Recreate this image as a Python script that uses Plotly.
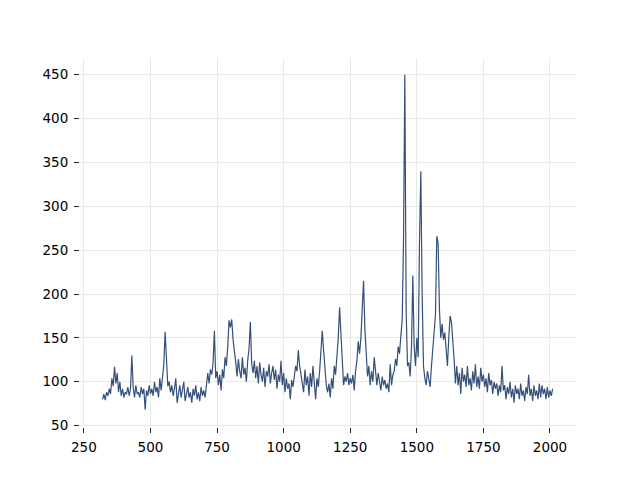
import plotly.graph_objects as go

# Sampling grid (wavenumber) and intensities
x_start = 320
x_step = 5
intensity = [
    80, 86, 79, 88, 84, 92, 86, 104, 95, 117,
    98, 110, 88, 100, 84, 92, 82, 88, 86, 94,
    84, 92, 130, 94, 82, 96, 86, 88, 82, 94,
    86, 92, 68, 90, 84, 96, 86, 92, 84, 100,
    88, 94, 82, 104, 90, 108, 120, 157, 118, 95,
    100, 88, 96, 84, 92, 104, 76, 86, 96, 82,
    90, 100, 78, 86, 94, 82, 88, 76, 92, 84,
    96, 80, 88, 78, 94, 84, 90, 82, 96, 110,
    98, 114, 108, 122, 158, 104, 112, 96, 108, 90,
    114, 104, 128, 118, 140, 170, 162, 171, 148, 130,
    122, 106, 126, 112, 104, 128, 108, 116, 100, 124,
    138, 168, 120, 110, 124, 104, 118, 98, 122, 108,
    100, 116, 94, 112, 106, 120, 98, 110, 118, 102,
    114, 92, 108, 100, 124, 96, 110, 88, 104, 92,
    98, 80, 102, 94, 108, 118, 112, 136, 118, 108,
    100, 88, 114, 96, 106, 84, 110, 94, 118, 100,
    80, 104, 94, 112, 130, 158, 136, 110, 96, 88,
    98, 82, 104, 92, 118, 108, 126, 150, 185, 150,
    112, 96, 106, 100, 110, 96, 104, 98, 108, 90,
    112, 124, 146, 132, 150, 185, 215, 160, 128, 106,
    118, 96, 112, 100, 128, 106, 96, 110, 100, 90,
    106, 96, 102, 92, 98, 88, 120, 96, 108, 112,
    126, 118, 140, 132, 152, 170, 260, 450, 180, 118,
    122, 106, 140, 221, 140, 118, 150, 128, 260, 340,
    200, 118, 104, 96, 112, 100, 94, 118, 136, 162,
    176, 266, 258, 182, 150, 166, 148, 156, 130, 118,
    150, 175, 168, 150, 126, 98, 118, 96, 110, 86,
    116, 100, 108, 94, 118, 96, 104, 90, 112, 98,
    120, 94, 106, 92, 116, 100, 108, 94, 104, 88,
    110, 96, 102, 86, 100, 92, 98, 84, 96, 88,
    118, 90, 96, 80, 94, 86, 100, 82, 92, 76,
    96, 86, 92, 80, 98, 84, 90, 78, 94, 86,
    108, 84, 92, 78, 96, 84, 90, 80, 98, 82,
    96, 86, 92, 80, 94, 82, 90, 84, 92,
]
wavenumber = [x_start + x_step * i for i in range(len(intensity))]

x_ticks = [250, 500, 750, 1000, 1250, 1500, 1750, 2000]
y_ticks = [50, 100, 150, 200, 250, 300, 350, 400, 450]

fig = go.Figure()
fig.add_trace(go.Scatter(
    x=wavenumber, y=intensity, mode="lines",
    line=dict(color="#34507a", width=1.2),
    showlegend=False, hoverinfo="skip",
))

axis_common = dict(
    showline=False, zeroline=False,
    showgrid=True, gridcolor="#e9e9e9", gridwidth=1.4,
    ticks="outside", ticklen=5, tickwidth=1.1, tickcolor="#222222",
    tickfont=dict(family="DejaVu Sans", size=13.5, color="#000000"),
    ticklabelstandoff=3,
)

# page body has an 8px margin, so the figure is drawn 8px smaller
fig.update_layout(
    width=632, height=472,
    margin=dict(l=72, r=64, t=49.6, b=52.8),
    paper_bgcolor="white", plot_bgcolor="white",
    xaxis=dict(range=[235.3, 2097.7], tickvals=x_ticks, **axis_common),
    yaxis=dict(range=[48.4, 469.1], tickvals=y_ticks, **axis_common),
)

fig.write_html("out.html")
